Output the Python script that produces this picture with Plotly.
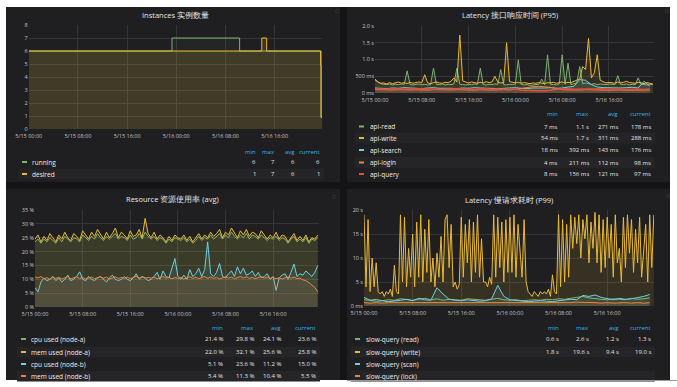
import numpy as np
import pandas as pd
import plotly.graph_objects as go

W, H = 677, 387

# ---------------- data ----------------
tick_labels = ["5/15 00:00", "5/15 08:00", "5/15 16:00", "5/16 00:00", "5/16 08:00", "5/16 16:00"]
tick_hours = [0, 8, 16, 24, 32, 40]
range_hours = 47.7

# top-left: instance counts (step lines)
tl_green_hours = [0, 23.3, 34.3, 47.47, 47.55, 47.7]
tl_green = [6, 7, 6, 6, 0.9, 0.9]
tl_yellow_hours = [0, 37.9, 38.7, 47.47, 47.55, 47.7]
tl_yellow = [6, 7, 6, 4.9, 0.9, 0.9]

# top-right: response time (ms), 30-min samples for green/yellow, hourly for others
tr_yellow = [420, 330, 290, 300, 270, 310, 280, 300, 330, 290,
             310, 280, 320, 290, 300, 330, 310, 545, 300, 280,
             310, 330, 300, 290, 320, 310, 350, 450, 330, 1730,
             360, 320, 300, 330, 310, 290, 320, 300, 340, 310,
             330, 500, 320, 300, 310, 1500, 340, 310, 300, 320,
             290, 310, 300, 280, 300, 290, 310, 300, 280, 310,
             300, 320, 290, 310, 330, 300, 320, 310, 340, 380,
             420, 790, 700, 1630, 450, 600, 1140, 380, 330, 300,
             320, 310, 290, 330, 300, 320, 350, 310, 300, 290,
             320, 300, 280, 310, 290, 270]
tr_green = [380, 320, 280, 260, 250, 270, 240, 260, 250, 270,
            260, 660, 250, 240, 260, 270, 250, 260, 240, 250,
            740, 260, 250, 270, 240, 260, 250, 270, 740, 260,
            250, 240, 260, 250, 270, 260, 740, 250, 240, 260,
            250, 270, 260, 700, 250, 240, 260, 250, 270, 990,
            260, 240, 250, 230, 240, 250, 260, 415, 250, 1140,
            260, 250, 240, 270, 1140, 260, 890, 250, 270, 300,
            790, 280, 300, 270, 260, 280, 250, 270, 260, 250,
            270, 260, 250, 520, 260, 250, 270, 240, 260, 250,
            450, 260, 250, 240, 260, 250]
tr_cyan = [150, 140, 130, 150, 140, 160, 150, 140, 130, 150, 160, 140,
           150, 140, 130, 150, 140, 160, 150, 140, 150, 130, 140, 150,
           160, 140, 130, 150, 140, 150, 160, 140, 150, 170, 200, 400,
           380, 250, 180, 160, 150, 140, 150, 160, 170, 150, 350, 200]
tr_orange = [100, 90, 85, 90, 100, 85, 90, 100, 90, 85, 100, 90,
             85, 90, 100, 105, 90, 85, 100, 90, 85, 90, 100, 90,
             110, 140, 170, 190, 200, 190, 170, 140, 100, 90, 85, 90,
             100, 105, 90, 85, 90, 100, 90, 85, 90, 100, 85, 90]
tr_red = [130, 120, 110, 130, 120, 105, 115, 125, 130, 110, 120, 105,
          115, 125, 130, 120, 110, 105, 120, 130, 110, 120, 105, 115,
          120, 80, 70, 60, 65, 70, 80, 115, 125, 130, 115, 120,
          105, 115, 125, 130, 110, 120, 105, 115, 125, 115, 105, 120]

# bottom-left: usage (%), 30-min samples
bl_yellow = [24.5, 26, 23.5, 25.5, 24, 26.5, 25, 23.5, 26, 24.5,
             27, 25, 24, 26.5, 25.5, 24, 27.5, 26, 24.5, 27,
             25.5, 28, 26, 24.5, 27, 25, 26.5, 28.5, 25, 27,
             26, 24.5, 27.5, 25.5, 26, 28, 25, 32, 26.5, 25,
             27, 24.5, 26, 25, 23.5, 25.5, 24, 26, 25, 24.5,
             26, 24, 25.5, 23.5, 25, 26.5, 24.5, 26, 25, 27,
             25.5, 26.5, 28, 25, 27, 26, 28.5, 26.5, 25, 27.5,
             26, 28, 25.5, 27, 26.5, 25, 27.5, 26, 24.5, 26,
             25, 27, 24.5, 26, 25.5, 23.5, 25, 26.5, 24, 25.5,
             24, 26, 23.5, 25, 24.5, 26]
bl_green = [23.5, 24.5, 23, 24.5, 23.5, 25, 24, 23, 25, 23.5,
            25.5, 24.5, 23.5, 25, 24.5, 23.5, 26, 25, 24, 25.5,
            24.5, 26.5, 25, 24, 25.5, 24.5, 25.5, 26.5, 24.5, 25.5,
            25, 24, 26, 24.5, 25, 26.5, 24.5, 27, 25.5, 24.5,
            25.5, 24, 25, 24.5, 23, 24.5, 23.5, 25, 24.5, 24,
            25, 23.5, 24.5, 23, 24, 25.5, 24, 25, 24.5, 26,
            24.5, 25.5, 26.5, 24.5, 26, 25, 27, 25.5, 24.5, 26,
            25, 26.5, 24.5, 26, 25.5, 24.5, 26, 25, 24, 25,
            24.5, 25.5, 24, 25, 24.5, 23, 24.5, 25.5, 23.5, 24.5,
            23.5, 25, 23, 24.5, 24, 25]
bl_cyan = [7, 5.5, 9, 10.5, 9.5, 10, 11, 9.5, 10.5, 9,
           10, 11.5, 9.5, 10, 11, 12.7, 10, 9.5, 11, 10,
           9.5, 10.5, 11, 10, 9, 10.5, 11.5, 10, 9.5, 10,
           11, 10, 9.5, 10.5, 12, 10, 11, 10.5, 9.5, 10,
           11, 12.5, 10, 13, 11, 10.5, 14, 17.5, 11, 10,
           11.5, 10, 13.5, 11, 12, 14, 11, 13.5, 23.5, 12,
           11, 12.5, 15.7, 11, 10.5, 12, 13, 11, 14.5, 12,
           14, 11.5, 12, 13, 11, 12.5, 10.5, 11, 12, 10,
           11, 6, 10.5, 11.5, 12, 10, 12.5, 15.5, 11, 12,
           11.5, 13, 12, 11, 12.5, 15]
bl_orange = [10.9, 10.5, 11, 10.2, 10.6, 10, 10.8, 10.3, 10.7, 10.1,
             10.5, 11, 10.2, 10.6, 10.9, 10.3, 10.7, 10.1, 10.5, 10.8,
             10.2, 10.6, 10.9, 10.4, 10.8, 10.1, 10.5, 10.9, 10.3, 10.7,
             10.4, 10.8, 10.2, 10.6, 11.1, 10.5, 10.9, 10.3, 10.7, 10.4,
             10.8, 10.2, 10.6, 11, 10.4, 10.8, 10.2, 10.6, 10.3, 10.7,
             10.1, 10.5, 10.9, 10.3, 10.7, 10.2, 10.6, 11, 10.4, 10.8,
             10.3, 10.7, 10.1, 10.5, 10.9, 10.4, 10.8, 10.2, 10.6, 11,
             10.5, 10.9, 10.3, 10.7, 10.2, 10.6, 11, 10.4, 10.8, 10.3,
             10.7, 10.2, 10.6, 10.1, 10.5, 10.9, 10.4, 10.8, 10.2, 10.4,
             9.8, 9.5, 8.8, 8, 7, 5.5]

# bottom-right: slow request latency (s), 20-min samples for yellow, hourly for others
br_yellow = [19, 4, 18, 3, 10, 4,
             9, 3, 2.5, 3, 2, 3,
             2.5, 3.5, 2, 8.5, 3, 2.5,
             19, 5, 18.5, 4, 12, 6,
             15, 4, 17.5, 6, 19, 5,
             16, 7, 18, 5, 10, 4,
             11, 6, 14.5, 5, 18, 19,
             8, 17, 4, 5, 3.5, 4.5,
             18.5, 6, 17, 9, 18, 5,
             17.5, 7, 19, 6, 14, 5,
             5, 4, 6, 4.5, 19, 6,
             18.5, 8, 17.5, 5, 18, 7,
             18.5, 7, 19, 6, 17, 12,
             6, 18, 5, 3, 2.5, 2,
             3, 2.5, 2, 3, 2.5, 3,
             2.5, 3.5, 2, 6.5, 3, 2.5,
             19, 4, 18, 5, 17, 6,
             19, 12, 18.5, 13, 19, 10,
             18, 14, 19, 9, 17.5, 12,
             19.5, 9, 19, 7, 18, 8,
             18.5, 10, 17, 6, 19, 9,
             12, 5, 18.5, 8, 19, 11,
             18, 7, 16, 9, 18.5, 6,
             12, 17, 5, 19, 8, 19]
br_green = [1.3, 1.2, 1.4, 1.1, 1.3, 1.2, 1.5, 1.3, 1.2, 1.4, 1.6, 1.3,
            1.5, 1.2, 1.4, 1.3, 1.2, 1.5, 1.4, 1.3, 1.2, 1.4, 1.6, 1.3,
            1.2, 1.3, 1.1, 1.2, 1.3, 1.2, 1.4, 1.3, 1.5, 1.4, 1.6, 1.8,
            2.0, 1.7, 1.5, 1.4, 1.3, 1.5, 1.4, 1.3, 1.6, 1.4, 1.5, 1.7]
br_cyan = [1.8, 1.2, 1.0, 1.1, 0.9, 1.0, 1.2, 1.4, 1.1, 1.6, 1.3, 1.2,
           3.8, 2.5, 1.4, 1.2, 1.1, 1.3, 1.2, 1.0, 1.1, 1.5, 4.3, 2.0,
           1.3, 1.2, 1.0, 0.9, 1.0, 1.1, 1.0, 0.9, 1.1, 1.2, 1.4, 1.3,
           2.2, 2.0, 2.3, 1.8, 1.5, 1.3, 1.6, 1.4, 1.5, 1.7, 2.0, 2.4]
br_orange = [0.7, 0.6, 0.7, 0.6, 0.7, 0.7, 0.6, 0.7, 0.6, 0.7, 0.7, 0.6,
             0.7, 0.6, 0.7, 0.7, 0.6, 0.7, 0.6, 0.7, 0.7, 0.6, 0.7, 0.6,
             0.7, 0.6, 0.7, 0.7, 0.6, 0.7, 0.6, 0.7, 0.7, 0.6, 0.7, 0.8,
             0.8, 0.7, 0.7, 0.6, 0.7, 0.6, 0.7, 0.7, 0.6, 0.7, 0.6, 0.7]

# titles and legends
titles = ["Instances 实例数量", "Latency 接口响应时间 (P95)",
          "Resource 资源使用率 (avg)", "Latency 慢请求耗时 (P99)"]
legend_cols = ["min", "max", "avg", "current"]
tl_names = ["running", "desired"]
tl_vals = [["6", "7", "6", "6"], ["1", "7", "6", "1"]]
tr_names = ["api-read", "api-write", "api-search", "api-login", "api-query"]
tr_vals = [["7 ms", "1.1 s", "271 ms", "178 ms"],
           ["54 ms", "1.7 s", "311 ms", "288 ms"],
           ["18 ms", "392 ms", "143 ms", "176 ms"],
           ["4 ms", "211 ms", "112 ms", "98 ms"],
           ["8 ms", "156 ms", "121 ms", "97 ms"]]
bl_names = ["cpu used (node-a)", "mem used (node-a)", "cpu used (node-b)", "mem used (node-b)"]
bl_vals = [["21.4 %", "29.8 %", "24.1 %", "23.6 %"],
           ["22.0 %", "32.1 %", "25.6 %", "25.8 %"],
           ["5.1 %", "23.6 %", "11.2 %", "15.0 %"],
           ["5.4 %", "11.3 %", "10.4 %", "5.5 %"]]
br_names = ["slow-query (read)", "slow-query (write)", "slow-query (scan)", "slow-query (lock)"]
br_vals = [["0.6 s", "2.6 s", "1.2 s", "1.3 s"],
           ["1.8 s", "19.6 s", "9.4 s", "19.0 s"],
           None, None]

# ---------------- styling ----------------
GREEN, YELLOW, CYAN, ORANGE, RED = "#7EB26D", "#EAB839", "#6ED0E0", "#EF843C", "#E24D42"
PANEL = "#1f1f21"
GAP = "#141416"
GRID = "#363638"
TICK = "#c4c4c6"
FONT = "Open Sans"
TICK_SIZE = 5.5

base = pd.Timestamp("2019-05-15 00:00")


def hours_to_time(hrs):
    return [base + pd.Timedelta(hours=float(h)) for h in hrs]


def series_times(n, step_h):
    return hours_to_time(np.arange(n) * step_h)


def rgba(hexc, a):
    hexc = hexc.lstrip("#")
    r, g, b = int(hexc[0:2], 16), int(hexc[2:4], 16), int(hexc[4:6], 16)
    return f"rgba({r},{g},{b},{a})"


def px(x):
    return x / W


def py(y):
    return 1 - y / H


fig = go.Figure()


def add(xs, ys, color, ax, shape="linear", fill_a=0.1, width=1):
    fig.add_trace(go.Scatter(
        x=xs, y=ys, mode="lines", line=dict(color=color, width=width, shape=shape),
        fill="tozeroy", fillcolor=rgba(color, fill_a),
        xaxis="x" + ax, yaxis="y" + ax, hoverinfo="skip", showlegend=False))


# TL
add(hours_to_time(tl_green_hours), tl_green, GREEN, "", shape="hv", fill_a=0.05)
add(hours_to_time(tl_yellow_hours), tl_yellow, YELLOW, "", shape="hv", fill_a=0.15)
# TR
add(series_times(len(tr_green), 0.5), tr_green, GREEN, "2")
add(series_times(len(tr_yellow), 0.5), tr_yellow, YELLOW, "2")
add(series_times(len(tr_cyan), 1.0), tr_cyan, CYAN, "2")
add(series_times(len(tr_orange), 1.0), tr_orange, ORANGE, "2")
add(series_times(len(tr_red), 1.0), tr_red, RED, "2", width=1.5)
# BL
add(series_times(len(bl_green), 0.5), bl_green, GREEN, "3")
add(series_times(len(bl_yellow), 0.5), bl_yellow, YELLOW, "3")
add(series_times(len(bl_cyan), 0.5), bl_cyan, CYAN, "3")
add(series_times(len(bl_orange), 0.5), bl_orange, ORANGE, "3")
# BR
add(series_times(len(br_green), 1.0), br_green, GREEN, "4")
add(series_times(len(br_yellow), 1.0 / 3), br_yellow, YELLOW, "4", fill_a=0.12)
add(series_times(len(br_cyan), 1.0), br_cyan, CYAN, "4")
add(series_times(len(br_orange), 1.0), br_orange, ORANGE, "4")

xr = [base, base + pd.Timedelta(hours=range_hours)]
tickvals_t = hours_to_time(tick_hours)


def xaxis(x0, x1, y_anchor):
    return dict(domain=[px(x0), px(x1)], anchor=y_anchor, type="date", range=xr,
                tickmode="array", tickvals=tickvals_t, ticktext=tick_labels,
                showgrid=True, gridcolor=GRID, gridwidth=1, zeroline=False,
                showline=False, ticks="", automargin=False, ticklabelstandoff=2,
                tickfont=dict(size=TICK_SIZE, color=TICK, family=FONT),
                fixedrange=True)


def yaxis(y_top, y_bot, x_anchor, rng, vals, texts):
    return dict(domain=[py(y_bot), py(y_top)], anchor=x_anchor, range=rng,
                tickmode="array", tickvals=vals, ticktext=texts,
                showgrid=True, gridcolor=GRID, gridwidth=1, zeroline=False,
                showline=False, ticks="", automargin=False,
                tickfont=dict(size=TICK_SIZE, color=TICK, family=FONT),
                fixedrange=True)


layout = dict(
    width=W, height=H, autosize=False,
    margin=dict(l=0, r=0, t=0, b=0, pad=0),
    paper_bgcolor="#ffffff", plot_bgcolor="rgba(0,0,0,0)",
    showlegend=False,
    xaxis=xaxis(28.75, 322, "y"),
    yaxis=yaxis(25, 129, "x", [0, 8], list(range(9)), [str(v) for v in range(9)]),
    xaxis2=xaxis(375, 654, "y2"),
    yaxis2=yaxis(26, 93, "x2", [0, 2000], [0, 500, 1000, 1500, 2000],
                 ["0 ms", "500 ms", "1.0 s", "1.5 s", "2.0 s"]),
    xaxis3=xaxis(35, 319, "y3"),
    yaxis3=yaxis(210, 307, "x3", [0, 35], list(range(0, 40, 5)),
                 [f"{v} %" for v in range(0, 40, 5)]),
    xaxis4=xaxis(364, 654, "y4"),
    yaxis4=yaxis(210, 306, "x4", [0, 20], [0, 5, 10, 15, 20],
                 ["0 ms", "5 s", "10 s", "15 s", "20 s"]),
)
fig.update_layout(**layout)

shapes = []
annotations = []


def rect(x0, y0, x1, y1, color):
    shapes.append(dict(type="rect", xref="paper", yref="paper", x0=px(x0), x1=px(x1),
                       y0=py(y1), y1=py(y0), fillcolor=color, line=dict(width=0), layer="below"))


def text(t, x, y, size=6, color=TICK, xanchor="left", bold=False):
    annotations.append(dict(text=f"<b>{t}</b>" if bold else t, x=px(x), y=py(y),
                            xref="paper", yref="paper", xanchor=xanchor, yanchor="middle",
                            showarrow=False, font=dict(size=size, color=color, family=FONT)))


# dashboard background and panels
rect(6, 7, 670, 380, GAP)
panels = [(6, 7, 340, 182), (347, 7, 670, 182), (6, 189, 340, 380), (347, 189, 670, 380)]
for p in panels:
    rect(*p, PANEL)

# titles
title_pos = [(175, 15), (510, 15), (172, 199), (509, 200)]
for t, (x, y) in zip(titles, title_pos):
    text(t, x, y, size=7.5, color="#e6e6e6", xanchor="center")

# small panel icons
for (x, y) in [(337, 11), (667, 11), (334, 196), (668, 195)]:
    text("◌", x, y, size=7, color="#8a8a8a", xanchor="center")


def legend(names, vals, colors, header_y, rows_y, dash_x, name_x, col_right):
    for c, xr_ in zip(legend_cols, col_right):
        text(c, xr_, header_y, size=6, color="#33b5e5", xanchor="right")
    for i, (nm, col, ry) in enumerate(zip(names, colors, rows_y)):
        if i % 2 == 1:
            rect(dash_x - 4, ry - 5.5, col_right[-1] + 2, ry + 5.5, "#252527")
        shapes.append(dict(type="line", xref="paper", yref="paper",
                           x0=px(dash_x), x1=px(dash_x + 5), y0=py(ry), y1=py(ry),
                           line=dict(color=col, width=2)))
        text(nm, name_x, ry, size=6.5, color="#ececec")
        if vals[i] is not None:
            for v, xr_ in zip(vals[i], col_right):
                text(v, xr_, ry, size=6, color="#e4e4e4", xanchor="right")


legend(tl_names, tl_vals, [GREEN, YELLOW], 152, [162, 174], 22, 30, [258, 277, 297, 322])
legend(tr_names, tr_vals, [GREEN, YELLOW, CYAN, ORANGE, RED], 114,
       [126.5, 138, 150, 162.5, 174], 359, 368, [560, 591, 620, 653])
legend(bl_names, bl_vals, [GREEN, YELLOW, CYAN, ORANGE], 328,
       [339, 352, 364, 376], 21, 29, [225, 256, 283, 318])
legend(br_names, br_vals, [GREEN, YELLOW, CYAN, ORANGE], 328,
       [339, 352, 364, 376], 355, 364, [561, 591, 621, 653])

# bottom-right thin rule
shapes.append(dict(type="line", xref="paper", yref="paper", x0=px(347), x1=px(677),
                   y0=py(380.5), y1=py(380.5), line=dict(color="#9a9a9a", width=1)))

fig.update_layout(shapes=shapes, annotations=annotations)
fig.write_html(
    "out.html",
    config={"displayModeBar": False, "staticPlot": True},
    post_script="document.body.style.margin='0';document.body.style.padding='0';"
                "document.body.style.overflow='hidden';",
)
